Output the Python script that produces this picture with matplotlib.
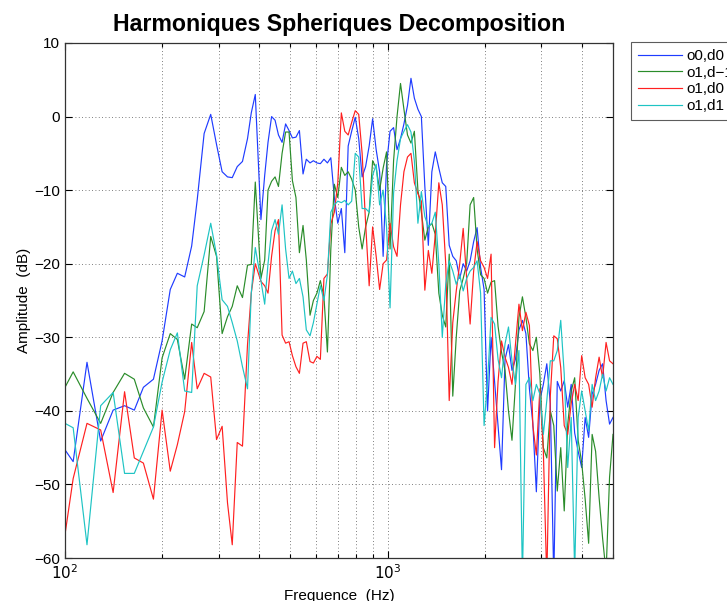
import matplotlib
matplotlib.use("Agg")
import matplotlib.pyplot as plt
from matplotlib.ticker import FixedLocator, LogLocator, NullFormatter, FixedFormatter

plt.rcParams['font.family'] = ['Liberation Sans', 'DejaVu Sans']

# Frequency bins (Hz)
freq_hz = [
    100, 106, 117, 129, 141, 153, 164, 175, 188, 200, 212, 223, 235, 247, 257,
    270, 283, 295, 307, 319, 330, 342, 355, 368, 378, 389,
    405, 416, 426, 437, 448, 459, 471, 483, 495, 507, 520, 533, 547, 560, 575,
    589, 604, 619, 635, 651, 667, 684, 701, 719, 737, 755, 774, 794, 814, 834,
    855, 877, 899, 922, 945, 969, 993, 1018, 1044, 1070, 1097, 1124, 1153, 1182,
    1211, 1242, 1273, 1305, 1338, 1372, 1406, 1442,
    1478, 1515, 1553, 1593, 1633, 1674, 1716, 1759, 1803, 1849, 1895, 1943,
    1992, 2042, 2094, 2147, 2201, 2256, 2313, 2371, 2431, 2492, 2555, 2619,
    2685, 2753, 2822, 2893, 2966, 3041, 3117, 3196, 3276, 3359, 3443, 3530,
    3619, 3710, 3803, 3899, 3998, 4099, 4202, 4308, 4416, 4528, 4642, 4759,
    4879, 5000,
]

# Amplitude per harmonic component (dB)
db_o0d0 = [
    -45.3, -46.9, -33.4, -44.1, -39.9, -39.3, -39.9, -36.8, -35.7, -30.5, -23.5,
    -21.3, -21.8, -17.6, -11.3, -2.3, 0.3, -3.8, -7.5, -8.2, -8.3, -6.8, -6.1,
    -3.0, 0.5, 3.0,
    -14, -8, -3.5, 0, -0.5, -2.5, -3.5, -1, -1.9, -2.9, -2.8, -1.9, -7.8, -5.8,
    -6.3, -6.0, -6.3, -6.4, -5.8, -6.3, -5.6, -11, -14.5, -12.5, -18.5, -4, -2,
    -0.1, -3, -8.2, -6.8, -4, -0.3, -4.5, -7.5, -19, -6.5, -2, -1.5, -4.5, -3,
    -1, 1.5, 5.2, 2.5, 1.0, 0.0, -9.5, -17.5, -7.5, -4.8, -7,
    -9, -9.5, -17.5, -19, -19.6, -22, -20, -21, -19.6, -17, -15.1, -20.5,
    -23.5, -40, -30, -36, -42, -48, -33, -31, -34.5, -33, -29, -27.7,
    -29.5, -37, -41.8, -51, -38.6, -36.4, -33.6, -39, -63, -36, -37.3, -35.9,
    -39.5, -36.4, -43, -45.5, -47.7, -40.9, -43.6, -37.7, -36.4, -34.5, -33.6,
    -38.6, -41.8, -40.9,
]

db_o1dm1 = [
    -36.8, -34.7, -38.3, -41.7, -37.5, -34.9, -35.7, -39.6, -42.2, -32.8, -29.5,
    -30.3, -35.7, -28.2, -28.7, -26.5, -16.3, -19, -29.5, -27.2, -25.8, -23,
    -24.6, -20.2, -20.1, -8.9,
    -22, -19.5, -10, -8.8, -8.2, -9.5, -5, -2.1, -2.1, -8.7, -11, -18.5, -14.8,
    -19.5, -27, -25, -24, -22.3, -24.5, -32, -18, -9.2, -11, -6.9, -8, -7.5,
    -8.5, -10, -15, -18, -15, -13, -6, -7, -10, -7, -4.8, -18, -6, 0, 4.5, 1,
    -2.5, -3.6, -2, -10, -13, -16.8, -15, -14.5, -16, -24,
    -27, -28.6, -18.7, -38, -30, -23.7, -22, -20, -12, -11, -18, -21.5,
    -22, -24, -22.5, -22.3, -28.5, -32, -34.5, -40, -44, -36.4, -27.3, -24.5,
    -27.3, -30.9, -31.8, -30, -35, -45, -46.4, -40, -42, -50.9, -45, -53.6,
    -41.8, -37.3, -35.5, -44, -47, -52, -58, -43.2, -45.5, -51.8, -57.3, -62,
    -49, -43.2,
]

db_o1d0 = [
    -56.8, -49.2, -41.7, -42.6, -51.1, -37.4, -46.4, -47.1, -52, -39.9, -48.2,
    -44.6, -40.1, -30.7, -37, -34.9, -35.4, -43.9, -42.1, -52.5, -58.2, -44.3,
    -44.8, -31, -24, -20,
    -22.4, -23, -24, -19, -15.5, -14, -29.7, -30.8, -30.6, -32.5, -34, -34.9,
    -30.8, -30.6, -33.3, -33.5, -32.6, -33, -22, -21.4, -14.6, -13, -9, 0.5, -2,
    -2.5, -0.8, 0.8, 0.3, -5, -14.5, -23, -15, -19, -23.5, -20, -19.5, -14.5,
    -17.7, -19, -12, -7.5, -5.5, -5, -9, -10.5, -11.5, -23.6, -18.2, -21.3,
    -16, -9,
    -12, -20, -38.6, -28, -23.7, -20, -15.2, -22, -28.2, -21, -17, -19.6,
    -20.5, -22, -18.7, -45, -36, -30.5, -32.7, -34.1, -36.4, -30.9, -25.5,
    -29.1, -26.6, -28.4, -42, -46, -37, -45.5, -63, -38, -29.8, -30.2, -34.1,
    -42, -43.2, -39, -36.4, -38.6, -32.5, -35.5, -36.4, -39.5, -35.5, -32.7,
    -35.5, -30.7, -33.2, -33.6,
]

db_o1d1 = [
    -41.7, -42.3, -58.2, -39.3, -37.5, -48.5, -48.5, -45.5, -42.2, -36.1, -31.7,
    -29.4, -37.3, -37.5, -23, -18.8, -14.5, -18.8, -24.9, -25.8, -28, -30.5,
    -34, -37, -24, -17.8,
    -22.3, -25.5, -20, -15.5, -14, -16, -12, -18, -22, -21, -22.7, -22, -24.5,
    -29, -29.8, -28, -25.5, -23, -25, -21.5, -13, -12, -11.5, -11.7, -11.4, -12,
    -11.5, -5, -5.5, -12.5, -12.5, -13, -8, -6.5, -12, -10, -15, -26, -10.4,
    -6, -3, -2, -1.1, -2.1, -6, -14.5, -10.2, -13.6, -15, -14.5, -13, -20,
    -30, -22.8, -19.6, -21, -22.8, -21.5, -23.7, -22, -21, -20.5, -19.6, -24,
    -42, -36, -27.3, -28.2, -33, -35.5, -30.9, -28.6, -33.2, -36.4, -31.8,
    -63, -36.4, -35.5, -38.6, -36.4, -37.7, -43.2, -38.6, -33.2, -33.2, -31.8,
    -27.7, -35, -47.7, -40.9, -62, -40.9, -37.3, -40, -42.7, -36.4, -38.6,
    -37.3, -35, -37.3, -35.5, -36.4,
]

series_labels = ["o0,d0", "o1,d\u22121", "o1,d0", "o1,d1"]
series_colors = ["#1f3cff", "#2a8c2a", "#ff2020", "#1ec4c4"]
y_ticks = [10, 0, -10, -20, -30, -40, -50, -60]

fig = plt.figure(figsize=(7.27, 6.01), dpi=100)
ax = fig.add_axes([65 / 727, 43 / 601, 548 / 727, 515 / 601])

for vals, lab, col in zip([db_o0d0, db_o1dm1, db_o1d0, db_o1d1],
                          series_labels, series_colors):
    ax.plot(freq_hz, vals, color=col, lw=0.85, label=lab)

ax.set_xscale('log')
ax.set_xlim(100, 5000)
ax.set_ylim(-60, 10)
ax.yaxis.set_major_locator(FixedLocator(y_ticks))
ax.xaxis.set_major_locator(FixedLocator([100, 1000]))
ax.xaxis.set_major_formatter(FixedFormatter([r'$10^{2}$', r'$10^{3}$']))
ax.xaxis.set_minor_locator(LogLocator(base=10, subs=range(2, 10)))
ax.xaxis.set_minor_formatter(NullFormatter())

ax.grid(True, which='major', axis='both', linestyle=(0, (1, 3)),
        color='#555555', lw=0.6)
ax.grid(True, which='minor', axis='x', linestyle=(0, (1, 3)),
        color='#555555', lw=0.6)

ax.tick_params(which='both', direction='in', top=True, right=True,
               labelsize=11, colors='black', width=0.8)
ax.tick_params(which='major', length=5)
ax.tick_params(which='minor', length=3)
for sp in ax.spines.values():
    sp.set_color('#333333')
    sp.set_linewidth(0.9)

ax.set_title('Harmoniques Spheriques Decomposition', fontsize=16.7,
             fontweight='bold', pad=9)
ax.set_xlabel('Frequence  (Hz)', fontsize=11, labelpad=5)
ax.set_ylabel('Amplitude  (dB)', fontsize=11, labelpad=2)

# Legend sits outside the axes, running past the right edge of the figure
leg = fig.legend(loc='upper left', bbox_to_anchor=(631 / 727, 1 - 42 / 601),
                 fontsize=11, frameon=True, fancybox=False, handlelength=2.9,
                 handletextpad=0.3, borderpad=0.45, labelspacing=0.18,
                 borderaxespad=0)
leg.get_frame().set_edgecolor('#333333')
leg.get_frame().set_linewidth(0.8)

fig.savefig('out.png', dpi=100)
